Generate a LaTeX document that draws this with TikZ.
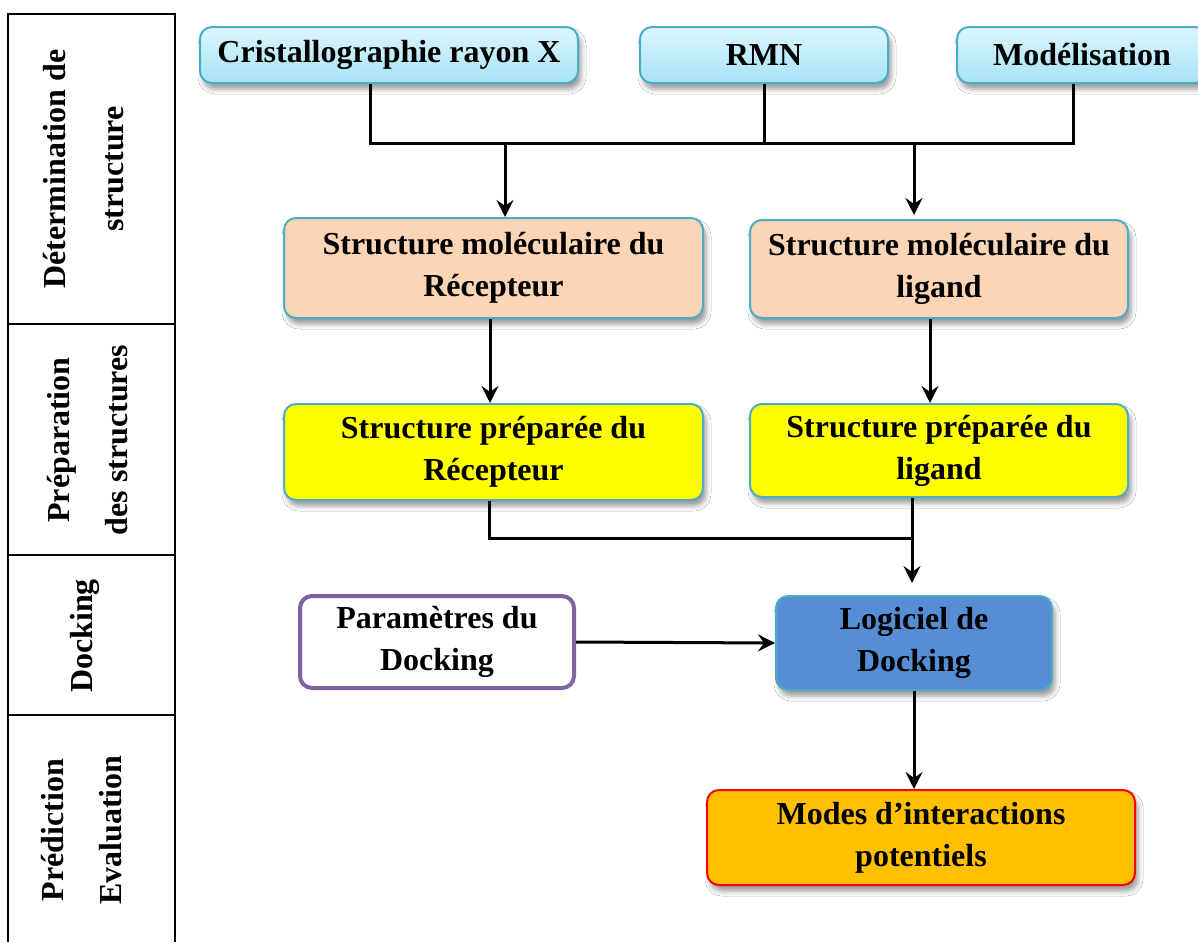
\documentclass[tikz,border=0pt]{standalone}
\usepackage{fontspec}
\setmainfont{Liberation Serif}
\usetikzlibrary{arrows.meta,shadows.blur}

\definecolor{aqua}{HTML}{4BACC6}
\definecolor{cyantop}{HTML}{DDF5FC}
\definecolor{cyanbot}{HTML}{A6E3F6}
\definecolor{peach}{HTML}{FBD5B5}
\definecolor{jaune}{HTML}{FFFF00}
\definecolor{bleu}{HTML}{558ED5}
\definecolor{orange}{HTML}{FFC000}
\definecolor{violet}{HTML}{8064A2}

\begin{document}
\begin{tikzpicture}[x=0.5pt,y=-0.5pt,
	font=\fontsize{16}{21}\selectfont\bfseries,
	box/.style={draw=aqua,line width=1pt,rounded corners=6pt,align=center,inner sep=0pt,
		blur shadow={shadow xshift=1.5pt,shadow yshift=-3pt,shadow blur radius=2.5pt,shadow opacity=40}},
	source/.style={box,top color=cyantop,bottom color=cyanbot,minimum height=28pt},
	phase/.style={font=\fontsize{16}{29}\selectfont\bfseries,rotate=90,align=center},
	line/.style={line width=1.5pt},
	arr/.style={line width=1.5pt,-{Stealth[length=8.5pt,width=8.5pt,inset=3pt]}}]
	\useasboundingbox[fill=white] (0,0) rectangle (1198,942);

	% colonne des etapes
	\draw[line width=1.2pt] (8,942) -- (8,14) -- (175,14) -- (175,942);
	\draw[line width=1.2pt] (8,324) -- (175,324);
	\draw[line width=1.2pt] (8,555) -- (175,555);
	\draw[line width=1.2pt] (8,715) -- (175,715);
	\node[phase] (determ) at (84,169) {D\'etermination de\\structure};
	\node[phase] (prepa) at (88,440) {Pr\'eparation\\des structures};
	\node[phase] (dock) at (85,636) {Docking};
	\node[phase] (predic) at (82,830) {Pr\'ediction\\Evaluation};

	% sources
	\node[source,minimum width=189pt] (cristal) at (389,55) {Cristallographie rayon X};
	\node[source,minimum width=124pt] (rmn) at (764,55) {RMN};
	\node[source,minimum width=125pt] (model) at (1082,55) {Mod\'elisation};

	% structures
	\node[box,fill=peach,minimum width=209.5pt,minimum height=50pt] (recept) at (493.5,268) {Structure mol\'eculaire du\\R\'ecepteur};
	\node[box,fill=peach,minimum width=189pt,minimum height=49pt] (ligand) at (939,269) {Structure mol\'eculaire du\\ligand};
	\node[box,fill=jaune,minimum width=209.5pt,minimum height=48pt] (preprec) at (493.5,452) {Structure pr\'epar\'ee du\\R\'ecepteur};
	\node[box,fill=jaune,minimum width=189pt,minimum height=46.5pt] (preplig) at (939,450.5) {Structure pr\'epar\'ee du\\ligand};

	% docking
	\node[draw=violet,line width=2pt,rounded corners=6pt,fill=white,align=center,inner sep=0pt,
		minimum width=137pt,minimum height=46pt] (param) at (437,642) {Param\`etres du\\Docking};
	\node[box,fill=bleu,minimum width=138pt,minimum height=47pt] (logiciel) at (914,643) {Logiciel de\\Docking};
	\node[box,draw=red,fill=orange,minimum width=214pt,minimum height=47.5pt] (modes) at (921,837.5) {Modes d'interactions\\potentiels};

	% connexions
	\coordinate (busA) at (370,143);
	\coordinate (busB) at (1073,143);
	\coordinate (busL) at (505,143);
	\coordinate (busR) at (914,143);
	\coordinate (merge) at (912,538);
	\draw[line] (busA |- cristal.south) -- (busA) -- (busB) -- (busB |- model.south);
	\draw[line] (rmn.south) -- (rmn.south |- busA);
	\draw[arr] (busL) -- (busL |- recept.north);
	\draw[arr] (busR) -- ([yshift=2pt]busR |- ligand.north);
	\draw[arr] ([xshift=-1.75pt]recept.south) -- ([xshift=-1.75pt]preprec.north);
	\draw[arr] ([xshift=-4.5pt]ligand.south) -- ([xshift=-4.5pt]preplig.north);
	\draw[line] ([xshift=-2pt]preprec.south) |- (merge);
	\draw[arr] (merge |- preplig.south) -- ([yshift=6pt]merge |- logiciel.north);
	\draw[arr] (param.east) -- (logiciel.west);
	\draw[arr] (logiciel.south) -- (logiciel.south |- modes.north);
\end{tikzpicture}
\end{document}
